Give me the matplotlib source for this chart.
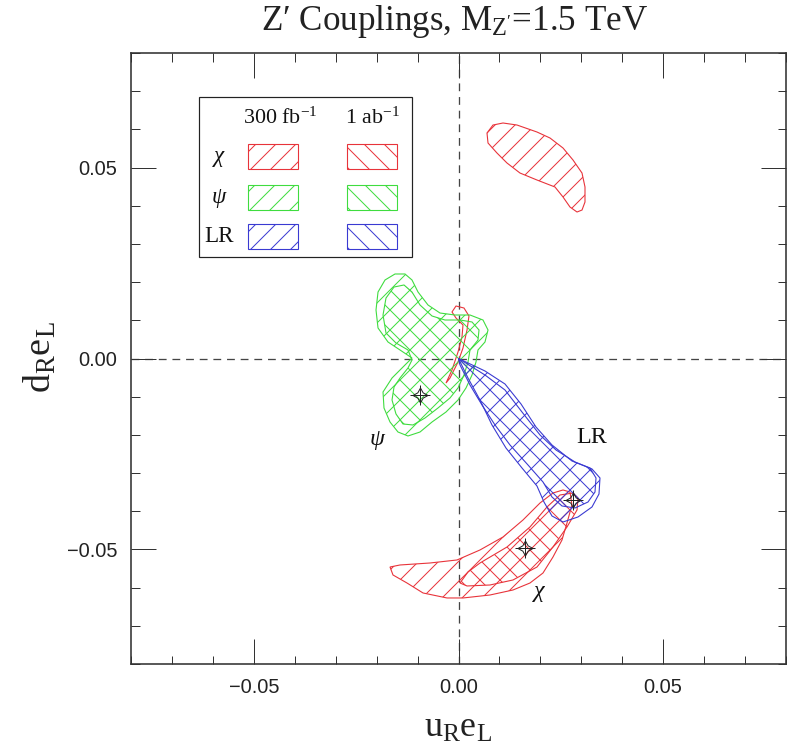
import matplotlib
matplotlib.use('Agg')
import matplotlib.pyplot as plt
from matplotlib.patches import Polygon, Rectangle
from matplotlib.ticker import MultipleLocator, FixedLocator, FixedFormatter

DPI = 60
PX = 72.0 / DPI  # points per pixel

plt.rcParams['mathtext.fontset'] = 'custom'
plt.rcParams['mathtext.rm'] = 'Liberation Serif'
plt.rcParams['mathtext.it'] = 'Liberation Serif:italic'
plt.rcParams['hatch.linewidth'] = 1.0 * PX

# ---------------- data (couplings) ----------------
title = "Z\u2032 Couplings, M$_{\\mathrm{Z'}}$=1.5 TeV"
xlabel = r"$\mathrm{u_R e_L}$"
ylabel = r"$\mathrm{d_R e_L}$"
xlim = (-0.08, 0.08)
ylim = (-0.08, 0.08)
major_ticks = [-0.05, 0.0, 0.05]
major_labels = ['\u22120.05', '0.00', '0.05']

# chi model, 300 fb^-1 : upper island
chi300_up_x = [6.96, 8.43, 10.87, 14.29, 19.17, 22.35, 25.53, 27.97, 30.17, 30.90, 30.90,
               30.17, 28.95, 27.23, 25.53, 23.57, 19.17, 15.02, 11.85, 9.40, 7.21]
chi300_up_y = [59.05, 61.14, 61.67, 61.14, 59.31, 57.74, 55.12, 51.98, 48.57, 44.91, 40.98,
               38.88, 38.36, 39.67, 42.29, 44.91, 46.74, 48.57, 51.19, 53.81, 56.43]
# chi model, 300 fb^-1 : lower banana
chi300_lo_x = [-16.73, -14.29, -6.96, -0.37, 5.25, 10.87, 15.75, 19.91, 23.08, 25.53, 27.23,
               27.72, 26.50, 25.28, 23.08, 20.64, 17.46, 13.31, 7.69, 1.10, -2.81, -8.67,
               -12.58, -16.00]
chi300_lo_y = [-54.60, -54.07, -53.55, -52.76, -50.14, -46.74, -42.29, -37.84, -35.22, -34.43,
               -34.96, -38.36, -43.07, -47.53, -51.98, -56.17, -58.79, -60.62, -61.93, -62.71,
               -62.71, -61.40, -58.79, -56.69]
# chi model, 300 fb^-1 : thin loop near origin
chi300_loop_x = [-3.05, -1.59, -0.12, 0.85, 1.10, -0.61, -1.59, -0.61, 1.34, 2.56, 2.08,
                 1.10, -0.12, -2.08]
chi300_loop_y = [-6.42, -3.01, 1.70, 5.63, 8.77, 10.60, 12.18, 13.75, 13.22, 11.13, 7.46,
                 2.75, -0.92, -5.11]
# chi model, 1 ab^-1
chi1000_x = [0.37, 2.32, 5.25, 11.85, 17.46, 21.62, 24.79, 27.97, 29.19, 28.95, 26.50, 23.08,
             19.17, 13.31, 7.69, 2.08]
chi1000_y = [-58.79, -55.90, -53.55, -49.36, -44.12, -38.88, -35.74, -35.22, -36.53, -39.67,
             -44.12, -49.36, -54.60, -58.00, -59.31, -59.57]

# psi model, 300 fb^-1
psi300_x = [-11.36, -14.29, -17.22, -19.66, -20.15, -19.66, -17.95, -15.51, -13.07, -11.36,
            -9.89, -7.45, -4.52, -0.85, 2.81, 5.98, 7.21, 6.47, 4.76, 4.27, 3.30, 1.83, -0.12,
            -3.05, -6.47, -9.40, -12.34, -14.78, -16.73, -18.20, -18.44, -16.24]
psi300_y = [0.13, 2.23, 4.32, 7.99, 12.70, 17.41, 20.56, 22.13, 22.13, 20.56, 17.41, 14.01,
            11.91, 11.39, 11.39, 10.08, 7.46, 4.32, 2.23, -0.92, -4.32, -7.72, -10.87, -14.01,
            -16.63, -19.25, -20.29, -19.25, -16.63, -12.96, -8.77, -5.11]
# psi model, 1 ab^-1
psi1000_x = [-12.34, -15.27, -17.71, -18.44, -17.71, -15.75, -13.31, -11.36, -9.40, -6.47,
             -3.30, 0.37, 3.30, 5.01, 4.76, 2.81, 2.32, 1.34, -0.12, -2.08, -5.01, -8.18,
             -11.11, -13.56, -15.27, -16.24, -15.75, -14.29, -12.34, -11.36]
psi1000_y = [2.23, 4.06, 6.68, 11.39, 15.84, 18.72, 19.25, 17.41, 14.01, 11.13, 10.08, 10.08,
             9.56, 7.46, 4.84, 2.23, -0.92, -4.32, -7.72, -10.34, -12.96, -15.58, -17.41,
             -17.15, -14.53, -10.87, -7.46, -5.11, -2.49, -0.39]

# LR model, 300 fb^-1
lr300_x = [0.0, 6.47, 11.36, 15.27, 18.93, 22.84, 27.72, 32.61, 34.56, 34.32, 32.61, 29.19,
           25.53, 22.84, 20.88, 19.17, 15.51, 11.60, 8.18, 5.25, 2.32]
lr300_y = [0.0, -3.27, -6.68, -11.91, -17.94, -22.65, -26.84, -28.93, -31.29, -35.48, -38.88,
           -41.50, -42.81, -41.24, -37.58, -33.39, -28.67, -23.44, -17.41, -10.87, -5.11]
# LR model, 1 ab^-1
lr1000_x = [0.0, 6.47, 11.36, 15.51, 19.91, 23.82, 28.46, 32.12, 33.59, 33.34, 31.63, 28.46,
            25.28, 22.84, 20.64, 16.98, 12.58, 8.92, 5.74, 2.81, 0.37]
lr1000_y = [0.0, -4.32, -8.25, -14.01, -20.03, -23.96, -27.10, -28.67, -31.29, -34.96, -37.58,
            -39.15, -38.62, -36.27, -32.34, -27.89, -22.65, -17.41, -12.18, -6.94, -1.70]

# model points (in units of 1e-3)
model_x = [-9.4, 16.2, 28.0]
model_y = [-9.6, -49.6, -37.1]
model_labels = ['\u03c8', '\u03c7', 'LR']
label_x = [-19.9, 19.7, 32.6]
label_y = [-21.3, -61.1, -20.6]

legend_rows = ['\u03c7', '\u03c8', 'LR']
legend_cols = ['300 fb$^{-1}$', '1 ab$^{-1}$']

RED = '#e8333a'
GREEN = '#3fdc3f'
BLUE = '#3a3ad2'
row_colors = [RED, GREEN, BLUE]

SCALE = 1e-3
SERIF = ['Liberation Serif', 'DejaVu Serif']

fig = plt.figure(figsize=(787 / DPI, 749 / DPI), dpi=DPI)
ax = fig.add_axes([131 / 787, 1 - 664 / 749, 655 / 787, 611 / 749])
ax.set_xlim(*xlim)
ax.set_ylim(*ylim)

# dashed zero lines
ax.axhline(0, color='#444444', lw=1.3 * PX, ls=(0, (6, 4.5)), zorder=1)
ax.axvline(0, color='#444444', lw=1.3 * PX, ls=(0, (6, 4.5)), zorder=1)


def region(xs, ys, color, hatch):
    pts = [(x * SCALE, y * SCALE) for x, y in zip(xs, ys)]
    p = Polygon(pts, closed=True, facecolor='none', edgecolor=color,
                hatch=hatch, lw=1.1 * PX, zorder=2)
    ax.add_patch(p)


region(chi300_up_x, chi300_up_y, RED, '/')
region(chi300_lo_x, chi300_lo_y, RED, '/')
region(chi300_loop_x, chi300_loop_y, RED, '')
region(chi1000_x, chi1000_y, RED, '\\')
region(psi300_x, psi300_y, GREEN, '/')
region(psi1000_x, psi1000_y, GREEN, '\\')
region(lr300_x, lr300_y, BLUE, '/')
region(lr1000_x, lr1000_y, BLUE, '\\')

mx = [x * SCALE for x in model_x]
my = [y * SCALE for y in model_y]
ax.plot(mx, my, ls='none', marker=(4, 1, 0), ms=15 * PX, mfc='none', mec='#222222',
        mew=1.0 * PX, zorder=4)
ax.plot(mx, my, ls='none', marker='+', ms=20 * PX, mec='#222222', mew=1.0 * PX, zorder=4)

for lx, ly, lab in zip(label_x, label_y, model_labels):
    ax.text(lx * SCALE, ly * SCALE, lab, ha='center', va='center',
            fontsize=24 * PX, family=SERIF,
            style='italic' if lab != 'LR' else 'normal', color='#111111')

# legend box (axes coordinates)
ax.add_patch(Rectangle((0.104, 0.666), 0.325, 0.262, transform=ax.transAxes,
                       facecolor='white', edgecolor='#222222', lw=1.2 * PX, zorder=5))
col_x = [0.2275, 0.368]
sw_left = [0.1786, 0.3298]
row_y = [0.830, 0.764, 0.699]
for cx, lab in zip(col_x, legend_cols):
    ax.text(cx, 0.894, lab, transform=ax.transAxes, ha='center', va='center',
            fontsize=22 * PX, family=SERIF, zorder=6, color='#111111')
for ry, lab, col in zip(row_y, legend_rows, row_colors):
    ax.text(0.134, ry, lab, transform=ax.transAxes, ha='center', va='center',
            fontsize=23 * PX, family=SERIF,
            style='italic' if lab != 'LR' else 'normal', zorder=6, color='#111111')
    for sl, h in zip(sw_left, ['/', '\\']):
        ax.add_patch(Rectangle((sl, ry - 0.0205), 0.0763, 0.041, transform=ax.transAxes,
                               facecolor='none', edgecolor=col, hatch=h, lw=1.1 * PX, zorder=6))

# ticks
ax.xaxis.set_major_locator(FixedLocator(major_ticks))
ax.yaxis.set_major_locator(FixedLocator(major_ticks))
ax.xaxis.set_major_formatter(FixedFormatter(major_labels))
ax.yaxis.set_major_formatter(FixedFormatter(major_labels))
ax.xaxis.set_minor_locator(MultipleLocator(0.01))
ax.yaxis.set_minor_locator(MultipleLocator(0.01))
ax.tick_params(which='both', direction='in', top=True, right=True, color='#333333',
               width=1.0 * PX)
ax.tick_params(which='major', length=25 * PX, pad=14 * PX)
ax.tick_params(which='minor', length=8.5 * PX)
for lab in ax.get_xticklabels() + ax.get_yticklabels():
    lab.set_family(['Liberation Sans Narrow', 'Liberation Sans', 'DejaVu Sans'])
    lab.set_fontsize(20 * PX)
    lab.set_color('#222222')
for s in ax.spines.values():
    s.set_linewidth(1.6 * PX)
    s.set_color('#333333')

fig.text(455 / 787, 1 - 22 / 749, title, ha='center', va='center', fontsize=35 * PX,
         family=SERIF, color='#222222')
fig.text(458 / 787, 1 - 727 / 749, xlabel, ha='center', va='center', fontsize=36 * PX,
         color='#222222')
fig.text(40 / 787, 1 - 357 / 749, ylabel, ha='center', va='center', fontsize=38 * PX,
         rotation=90, color='#222222')

fig.savefig('out.png', dpi=DPI)
